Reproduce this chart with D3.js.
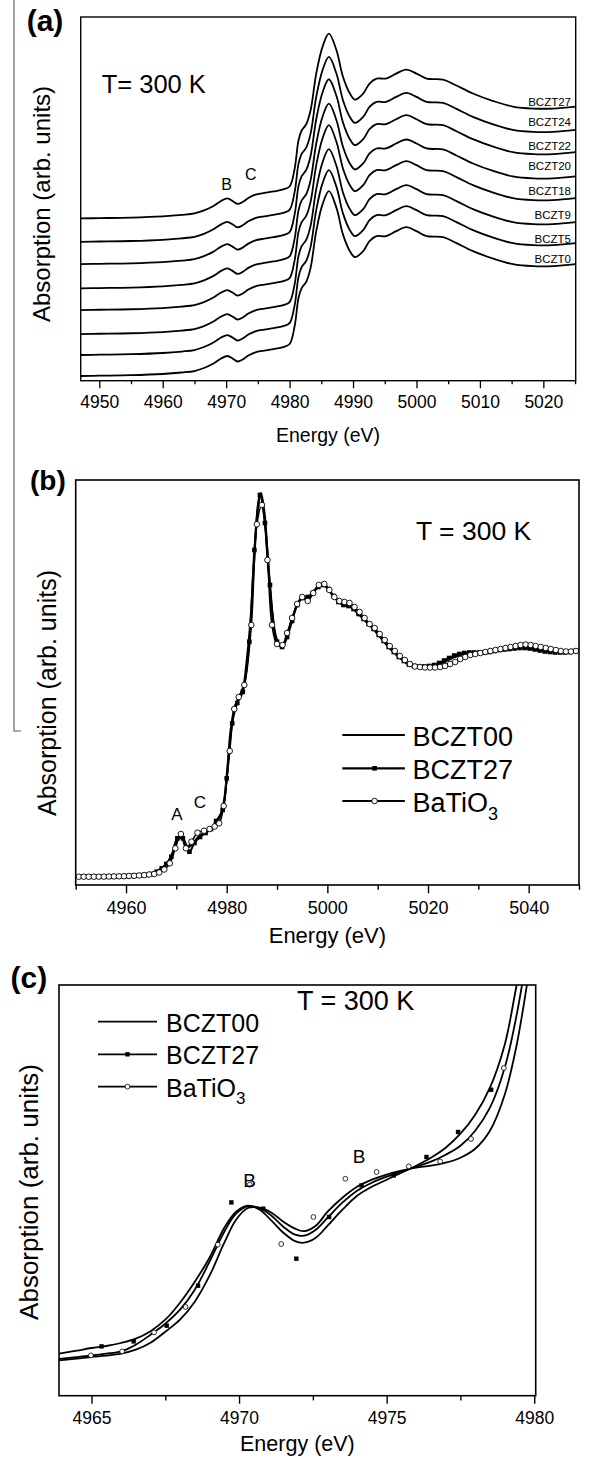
<!DOCTYPE html>
<html><head><meta charset="utf-8">
<script src="https://cdn.jsdelivr.net/npm/d3@7"></script>
<style>
body{margin:0;background:#fff}
svg{display:block}
text{font-family:"Liberation Sans",Arial,Helvetica,sans-serif;fill:#000}
</style>
</head><body>
<svg id="fig" width="599" height="1459"></svg>
<script>
// ---------------- Panel (a) data ----------------
const samplesA = ["BCZT27","BCZT24","BCZT22","BCZT20","BCZT18","BCZT9","BCZT5","BCZT0"];
const offsetsA = [162.4, 139, 116.7, 92.4, 70.7, 46.7, 25.7, 4.7];
const labelYA = [275, 255, 231, 210.5, 186, 161.5, 137.5, 117.5]; // label baseline values (arb. units)
const energyA = [4947,4950,4955,4960,4963,4965,4966.5,4968,4969.2,4970.2,4971,4971.8,4972.6,4973.5,4974.5,4976,4977.5,4979,4980,4980.8,4981.4,4981.9,4982.6,4983.3,4984.2,4985.2,4986.2,4987.4,4988.4,4989.5,4990.3,4991.6,4992.6,4993.7,4995.2,4996.8,4998.4,5000,5001.6,5004.2,5006.3,5008.9,5012.1,5015.2,5018.4,5021.5,5025.1];
const muA = [0,0.3,0.8,2,3.5,5,8,12.5,17.5,20,17.5,14.5,16.5,20.5,23.5,25.5,27,29,32,50,78,88,94,108,145,172,185,168,142,125,119,125,135,140,140,145,149,145,140,139,133,125,117.5,112,110,110,112];
const ticksA = [4950,4960,4970,4980,4990,5000,5010,5020];
const minorA = [4955,4965,4975,4985,4995,5005,5015,5025];

// ---------------- Panel (b) data ----------------
const eB00 = [4950,4955,4960,4962,4964,4965,4966,4967,4968,4969,4969.7,4970.4,4971,4971.6,4972.3,4973,4974,4975,4976,4977,4978,4978.8,4979.5,4980.2,4980.8,4981.6,4982.5,4983.3,4984,4984.7,4985.4,4986.1,4986.8,4987.5,4988.2,4989,4989.8,4990.6,4991.4,4992.2,4993,4994,4995,4996,4997,4998,4999,5000,5001,5002,5003,5004,5005,5006,5007,5008,5009,5010,5011,5012,5013,5014,5015,5016,5017,5018,5019,5020,5021,5022,5023,5024,5025,5026,5027,5028,5029,5030,5031,5032,5033,5034,5035,5036,5037,5038,5039,5040,5041,5042,5043,5044,5045,5046,5047,5048,5049,5050];
const hB00 = [8.3,8.3,8.8,9.4,10.3,11.5,13.3,16.5,21,29,38,46,47,43,38,40,46,50.5,53.5,57,63,70,85,120,155,178,188,198,225,262,320,372,392,372,325,275,248,240,242,253,266,280,287,287,292,298,301,297,290,285,282,281,277,272,267,262,257,251,245,239,234,229,225,221,219,218,218,218,219,220.5,222.5,225,227.5,229.5,231,232,232.5,232.5,232.5,233,234,235,236,236.5,237,237.5,238,237.5,236.5,235.5,234.5,234,233.5,233.5,233.5,233.5,234,234.5];

const eB27 = [4951.1,4952.1,4953.1,4954.1,4955.1,4956.1,4957.1,4958.1,4959.1,4960.1,4961.1,4962.1,4963.1,4964.1,4965.1,4966.1,4967.1,4968,4969,4970.2,4971.3,4972.6,4973.6,4974.7,4975.8,4976.9,4977.9,4979.2,4980,4981.1,4982.1,4983.2,4984.5,4985.5,4986.6,4987.6,4988.6,4990,4991,4992,4993,4994,4995,4996.1,4997.1,4998.2,4999.2,5000.2,5001.2,5002.2,5003.2,5004.2,5005.2,5006.2,5007.2,5008.2,5009.2,5010.2,5011.2,5012.2,5013.2,5014.2,5015.2,5016.2,5017.2,5018.2,5019.2,5020.2,5021.2,5022.2,5023.2,5024.2,5025.2,5026.2,5027.2,5028.2,5029.2,5030.2,5031.2,5032.2,5033.2,5034.2,5035.2,5036.2,5037.2,5038.2,5039.2,5040.2,5041.2,5042.2,5043.2,5044.2,5045.2,5046.2,5047.2,5048.2,5049.2];
const hB27 = [8.3,8.3,8.3,8.3,8.3,8.4,8.5,8.6,8.7,8.9,9.1,9.4,9.8,10.2,11,13.3,16.7,21,28.3,46.7,46.7,33.3,42,48,52,56,64,75,106.7,161.7,182,193,243.3,335,390,362,300,243.3,238,248,264,280,287,288,292,298,300,296,289,283,280,279,276,271,266,261,256,250,244,238,233,228,224,220.5,219,218.5,218.5,219,220,222,224.5,227,229.5,231,232,232.5,232.5,232.5,232.5,233,234,235,235.5,236,236.5,237,237,236.5,235.5,234.5,233.5,233,232.5,232.5,232.5,233,234];

const eBTO = [4950.6,4951.6,4952.6,4953.6,4954.6,4955.6,4956.6,4957.6,4958.6,4959.6,4960.6,4961.6,4962.6,4963.6,4964.6,4965.6,4966.6,4967.6,4968.7,4969.8,4970.9,4971.9,4973,4974.2,4975.5,4976.6,4977.6,4978.5,4979.4,4980.6,4981.5,4982.4,4983.5,4984.9,4986,4987,4988.1,4989,4990,4991.1,4992,4993,4994,4995,4996.1,4997.2,4998.3,4999.4,5000.4,5001.4,5002.4,5003.4,5004.4,5005.4,5006.4,5007.4,5008.4,5009.4,5010.4,5011.4,5012.4,5013.4,5014.4,5015.4,5016.4,5017.4,5018.4,5019.4,5020.4,5021.4,5022.4,5023.4,5024.4,5025.4,5026.4,5027.4,5028.4,5029.4,5030.4,5031.4,5032.4,5033.4,5034.4,5035.4,5036.4,5037.4,5038.4,5039.4,5040.4,5041.4,5042.4,5043.4,5044.4,5045.4,5046.4,5047.4,5048.4,5049.4];
const hBTO = [8.3,8.3,8.3,8.3,8.3,8.4,8.5,8.6,8.7,8.8,9,9.2,9.5,9.9,10.5,11,12.5,15.5,21.7,36.7,51,36.7,43.3,52.3,54.3,56,58.5,61.7,79,134,176,188,200,260,360.7,380,325,260,241,240,252,267,281,288,284,292,300,301,295,288,284,283,282,278,273,267,261,257,251,245,239,234,229,225,221,218.5,218,217.5,217.5,217.5,218,219,221,223,226,228,230,231,232,233,234,235,236,237,238,239,240,240.5,240,239,238,237,236,235,234,233.5,233.5,234];
const ticksB = [4960,4980,5000,5020,5040];
const minorB = [4950,4970,4990,5010,5030,5050];

// ---------------- Panel (c) data ----------------
const eC = [4963.9,4964.5,4965,4965.5,4966,4966.5,4967,4967.5,4968,4968.5,4969,4969.5,4969.9,4970.3,4970.7,4971.1,4971.5,4971.9,4972.2,4972.6,4973,4973.5,4974,4974.5,4975,4975.5,4976,4976.5,4977,4977.5,4978,4978.5,4979,4979.4,4979.8];
const hC27 = [42,45,47.7,49.7,52.7,57,64.5,76,93,114,138,168,184,190,186,175,163,154.5,153,158,170,186,200,209,216,223,230,238,248,262,281,308,351,410,470];
const hCBTO = [36.7,38.5,40.3,42,44.3,51,61,72,86,106,134,164,182,189.3,187.5,180,169,161,160,166,178,193,205,213,219,224,229,234,241,250,265,288,328,380,450];
const hC00 = [35.3,37,38.7,40,42,46,53,64,76,94,120,153,176,187.7,188,183,174,167,164.5,170,184,198,209,216,221,225,228,230,233,238,247,265,301,350,420];
const mkC27E = [4965.34,4966.43,4967.55,4968.61,4969.74,4970.82,4971.94,4973.05,4974.15,4975.24,4976.35,4977.42,4978.54];
const mkC27H = [49.3,54.3,70,110,193.3,187,137,178.7,210.3,220.3,238.7,263.7,306];
const mkCBTOE = [4964.98,4966.04,4967.12,4968.19,4969.28,4970.36,4971.43,4972.52,4973.6,4974.66,4975.75,4976.81,4977.86,4978.97];
const mkCBTOH = [40.3,44.3,63.3,88.7,151,211,151.7,178.7,217,223.7,229.3,234.3,256.7,327.7];
const ticksC = [4965,4970,4975,4980];
const minorC = [4967.5,4972.5,4977.5];

// ---------------- drawing ----------------
const svg = d3.select("#fig");
const zip = (xs, ys) => xs.map((x,i)=>[x, ys[i]]);

function addClip(id, x0, y0, x1, y1){
  svg.append("clipPath").attr("id", id).append("rect")
    .attr("x", x0).attr("y", y0).attr("width", x1-x0).attr("height", y1-y0);
}
function drawAxis(x, yAxis, major, minor, majLen, minLen, fs, pad, lw){
  const gM = svg.append("g").attr("transform", `translate(0,${yAxis})`)
    .call(d3.axisBottom(x).tickValues(major).tickFormat(d3.format("d")).tickSize(majLen).tickPadding(pad));
  gM.select(".domain").remove();
  gM.selectAll("line").attr("stroke","#000").attr("stroke-width",lw);
  gM.selectAll("text").attr("font-size",fs).attr("font-family",'"Liberation Sans",Arial,sans-serif').attr("fill","#000");
  const gm = svg.append("g").attr("transform", `translate(0,${yAxis})`)
    .call(d3.axisBottom(x).tickValues(minor).tickFormat("").tickSize(minLen));
  gm.select(".domain").remove();
  gm.selectAll("line").attr("stroke","#000").attr("stroke-width",lw);
}
function frame(x0,y0,x1,y1,lw){
  svg.append("rect").attr("x",x0).attr("y",y0).attr("width",x1-x0).attr("height",y1-y0)
    .attr("fill","none").attr("stroke","#000").attr("stroke-width",lw);
}
function txt(x,y,s,fs,opts={}){
  const t = svg.append("text").attr("x",x).attr("y",y).attr("font-size",fs).text(s);
  if(opts.anchor) t.attr("text-anchor",opts.anchor);
  if(opts.bold) t.attr("font-weight","bold");
  return t;
}
function yTitle(x, yc, fs){
  svg.append("text").attr("transform",`translate(${x},${yc}) rotate(-90)`)
    .attr("text-anchor","middle").attr("font-size",fs).text("Absorption (arb. units)");
}
const lineGen = (x,y) => d3.line().x(d=>x(d[0])).y(d=>y(d[1])).curve(d3.curveCatmullRom.alpha(0.5));

// scan artefact line at the left edge
svg.append("path").attr("d","M14,0 L14,731 L21,731").attr("fill","none").attr("stroke","#8a8a8a").attr("stroke-width",1.6);

// ===== Panel (a) =====
const xA = d3.scaleLinear().domain([4947.07, 5025.1]).range([80.7, 575.7]);
const yA = d3.scaleLinear().domain([0, 364]).range([380.7, 17]);
addClip("clipA", 80.7, 17, 575.7, 380.7);
const gA = svg.append("g").attr("clip-path","url(#clipA)");
samplesA.forEach((s,i)=>{
  gA.append("path").datum(zip(energyA, muA.map(v=>v+offsetsA[i])))
    .attr("d", lineGen(xA,yA)).attr("fill","none").attr("stroke","#000").attr("stroke-width",1.8);
  txt(571, yA(labelYA[i]), s, 11.5, {anchor:"end"});
});
frame(80.7,17,575.7,380.7,1.4);
drawAxis(xA, 380.7, ticksA, minorA, 7.6, 3.5, 17.5, 6.8, 1.3);
txt(26.7, 30.5, "(a)", 30, {bold:true});
txt(101.7, 93, "T= 300 K", 25.5);
txt(226.7, 190, "B", 16, {anchor:"middle"});
txt(250.8, 180, "C", 16, {anchor:"middle"});
yTitle(50, 204, 24);
txt(328, 442, "Energy (eV)", 19.5, {anchor:"middle"});

// ===== Panel (b) =====
const xB = d3.scaleLinear().domain([4950, 5050]).range([75.7, 579]);
const yB = d3.scaleLinear().domain([0, 405]).range([885, 480]);
addClip("clipB", 75.7, 480, 579, 885);
const gB = svg.append("g").attr("clip-path","url(#clipB)");
gB.append("path").datum(zip(eB00,hB00)).attr("d",lineGen(xB,yB)).attr("fill","none").attr("stroke","#000").attr("stroke-width",2.2);
gB.append("path").datum(zip(eB27,hB27)).attr("d",lineGen(xB,yB)).attr("fill","none").attr("stroke","#000").attr("stroke-width",2);
gB.append("path").datum(zip(eBTO,hBTO)).attr("d",lineGen(xB,yB)).attr("fill","none").attr("stroke","#000").attr("stroke-width",1.6);
gB.selectAll("rect.sq").data(zip(eB27,hB27)).join("rect").attr("class","sq")
  .attr("x",d=>xB(d[0])-2.3).attr("y",d=>yB(d[1])-2.3).attr("width",4.6).attr("height",4.6).attr("fill","#000");
gB.selectAll("circle.ci").data(zip(eBTO,hBTO)).join("circle").attr("class","ci")
  .attr("cx",d=>xB(d[0])).attr("cy",d=>yB(d[1])).attr("r",2.8).attr("fill","#fff").attr("stroke","#000").attr("stroke-width",0.9);
frame(75.7,480,579,885,1.6);
drawAxis(xB, 885, ticksB, minorB, 8.3, 4.8, 18, 8.2, 1.4);
txt(30, 490, "(b)", 28, {bold:true});
txt(416, 540, "T = 300 K", 26.5);
txt(177, 820, "A", 17, {anchor:"middle"});
txt(200, 808, "C", 17, {anchor:"middle"});
yTitle(56, 693, 25);
txt(327.4, 943, "Energy (eV)", 22, {anchor:"middle"});
// legend (b)
const legB = [{name:"BCZT00",y:735,m:null},{name:"BCZT27",y:768.3,m:"sq"},{name:"BaTiO",sub:"3",y:801,m:"ci"}];
legB.forEach(L=>{
  svg.append("line").attr("x1",342.3).attr("x2",404.9).attr("y1",L.y).attr("y2",L.y).attr("stroke","#000").attr("stroke-width",2.2);
  if(L.m==="sq") svg.append("rect").attr("x",374.6-2.3).attr("y",L.y-2.3).attr("width",4.6).attr("height",4.6).attr("fill","#000");
  if(L.m==="ci") svg.append("circle").attr("cx",374.6).attr("cy",L.y).attr("r",2.8).attr("fill","#fff").attr("stroke","#000").attr("stroke-width",0.9);
  const t = txt(412.5, L.y+10.5, L.name, 27);
  if(L.sub) t.append("tspan").attr("font-size",18).attr("dy",8).text(L.sub);
});

// ===== Panel (c) =====
const xC = d3.scaleLinear().domain([4963.9, 4980.05]).range([59, 535.7]);
const yC = d3.scaleLinear().domain([0, 410.7]).range([1395.7, 985]);
addClip("clipC", 59, 985, 535.7, 1395.7);
const gC = svg.append("g").attr("clip-path","url(#clipC)");
[hC00, hC27, hCBTO].forEach(h=>{
  gC.append("path").datum(zip(eC,h)).attr("d",lineGen(xC,yC)).attr("fill","none").attr("stroke","#000").attr("stroke-width",1.8);
});
gC.selectAll("rect.sq").data(zip(mkC27E,mkC27H)).join("rect").attr("class","sq")
  .attr("x",d=>xC(d[0])-2.2).attr("y",d=>yC(d[1])-2.2).attr("width",4.4).attr("height",4.4).attr("fill","#000");
gC.selectAll("circle.ci").data(zip(mkCBTOE,mkCBTOH)).join("circle").attr("class","ci")
  .attr("cx",d=>xC(d[0])).attr("cy",d=>yC(d[1])).attr("r",2.4).attr("fill","#fff").attr("stroke","#000").attr("stroke-width",0.8);
frame(59,985,535.7,1395.7,1.6);
drawAxis(xC, 1395.7, ticksC, minorC, 8, 4.7, 17.5, 7.9, 1.4);
txt(10.6, 988, "(c)", 30, {bold:true});
txt(297, 1010, "T = 300 K", 27);
txt(249.5, 1186.7, "B", 19, {anchor:"middle"});
txt(359, 1162.7, "B", 19, {anchor:"middle"});
yTitle(37.5, 1192, 26);
txt(297.4, 1451, "Energy (eV)", 21.5, {anchor:"middle"});
// legend (c)
const legC = [{name:"BCZT00",y:1021.7,m:null},{name:"BCZT27",y:1054.3,m:"sq"},{name:"BaTiO",sub:"3",y:1086.7,m:"ci"}];
legC.forEach(L=>{
  svg.append("line").attr("x1",98).attr("x2",157).attr("y1",L.y).attr("y2",L.y).attr("stroke","#000").attr("stroke-width",1.8);
  if(L.m==="sq") svg.append("rect").attr("x",127.5-2.2).attr("y",L.y-2.2).attr("width",4.4).attr("height",4.4).attr("fill","#000");
  if(L.m==="ci") svg.append("circle").attr("cx",127.5).attr("cy",L.y).attr("r",2.4).attr("fill","#fff").attr("stroke","#000").attr("stroke-width",0.8);
  const t = txt(166, L.y+10, L.name, 25);
  if(L.sub) t.append("tspan").attr("font-size",17).attr("dy",7).text(L.sub);
});
</script>
</body></html>
